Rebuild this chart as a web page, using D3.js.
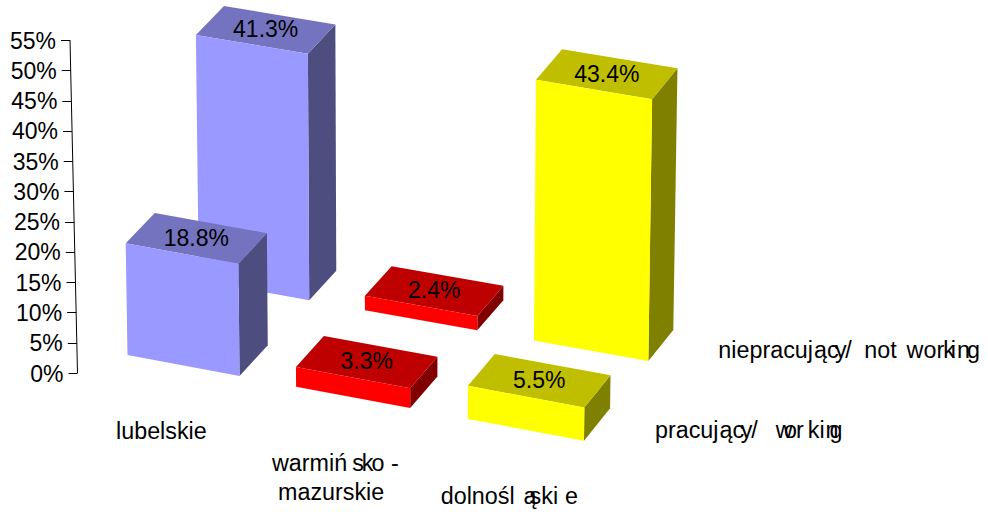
<!DOCTYPE html>
<html>
<head>
<meta charset="utf-8">
<style>
  body { margin: 0; background: #fff; }
  text { font-family: "Liberation Sans", Arial, sans-serif; font-size: 23px; fill: #000; font-kerning: none; white-space: pre; }
  text.caption { font-size: 23.3px; }
</style>
<script src="https://cdnjs.cloudflare.com/ajax/libs/d3/7.8.5/d3.min.js"></script>
</head>
<body>
<div id="chart-area"></div>
<script>
var categories = ["lubelskie", "warmińsko-mazurskie", "dolnośląskie"];
var seriesNames = ["pracujący/ working", "niepracujący/ not working"];
var working = [18.8, 3.3, 5.5];
var notWorking = [41.3, 2.4, 43.4];
var yTicks = [0, 5, 10, 15, 20, 25, 30, 35, 40, 45, 50, 55];

var frontColors = ["#9999ff", "#ff0000", "#ffff00"];
var topColors = ["#7373bf", "#bf0000", "#bfbf00"];
var sideColors = ["#4d4d80", "#800000", "#808000"];

var width = 988, height = 514;

var svg = d3.select("#chart-area").append("svg")
    .attr("width", width)
    .attr("height", height)
    .attr("viewBox", "0 0 " + width + " " + height);

// floor plane: unit square (u along categories, w into the page) to screen
var floor = homography([127.5, 355], [584, 440.7], [673.3, 330], [226.5, 251.5]);

var u = d3.scaleBand().domain(d3.range(categories.length)).range([0, 1]).paddingInner(1 / 3);
var w = d3.scaleBand().domain(d3.range(seriesNames.length)).range([0, 1]).paddingInner(0.6);
var rise = d3.scaleLinear().domain([0, 55]).range([0, 327]);
var yAxis = d3.scaleLinear().domain([0, 55]).range([373, 40]);
var axisX = d3.scaleLinear().domain([0, 55]).range([77.5, 70]);

function homography(p0, p1, p2, p3) {
  var dx1 = p1[0] - p2[0], dx2 = p3[0] - p2[0], sx = p0[0] - p1[0] + p2[0] - p3[0];
  var dy1 = p1[1] - p2[1], dy2 = p3[1] - p2[1], sy = p0[1] - p1[1] + p2[1] - p3[1];
  var den = dx1 * dy2 - dx2 * dy1;
  var g = (sx * dy2 - dx2 * sy) / den;
  var h = (dx1 * sy - sx * dy1) / den;
  var a = p1[0] - p0[0] + g * p1[0], b = p3[0] - p0[0] + h * p3[0];
  var d = p1[1] - p0[1] + g * p1[1], e = p3[1] - p0[1] + h * p3[1];
  return function(s, t) {
    var q = g * s + h * t + 1;
    return [(a * s + b * t + p0[0]) / q, (d * s + e * t + p0[1]) / q];
  };
}

// a point on the box at floor position (s, t), raised by value v
function project(s, t, v) {
  var base = floor(s + 0.02 * s * (1 - s), t);
  var up = rise(v) * (1 + 0.014 * s);
  return [base[0] + (base[0] - 400) * 0.00035 * v, base[1] - up];
}

function drawBar(i, j, value) {
  var s0 = u(i), s1 = s0 + u.bandwidth();
  var t0 = w(j), t1 = t0 + w.bandwidth();
  var g = svg.append("g").attr("class", "bar");

  g.append("polygon")
      .attr("fill", sideColors[i])
      .attr("points", [project(s1, t0, 0), project(s1, t1, 0), project(s1, t1, value), project(s1, t0, value)].join(" "));
  g.append("polygon")
      .attr("fill", topColors[i])
      .attr("points", [project(s0, t0, value), project(s1, t0, value), project(s1, t1, value), project(s0, t1, value)].join(" "));
  g.append("polygon")
      .attr("fill", frontColors[i])
      .attr("points", [project(s0, t0, 0), project(s1, t0, 0), project(s1, t0, value), project(s0, t0, value)].join(" "));

  var c = project((s0 + s1) / 2, (t0 + t1) / 2, value);
  g.append("text")
      .attr("x", c[0])
      .attr("y", c[1] + 7.5)
      .attr("text-anchor", "middle")
      .text(d3.format(".1f")(value) + "%");
}

// back row first so the front row covers it
notWorking.forEach(function(v, i) { drawBar(i, 1, v); });
working.forEach(function(v, i) { drawBar(i, 0, v); });

// slanted value axis
var axis = svg.append("g").attr("class", "axis");
axis.append("line")
    .attr("x1", axisX(0)).attr("y1", yAxis(0))
    .attr("x2", axisX(55)).attr("y2", yAxis(55))
    .attr("stroke", "#000");
axis.selectAll(".tick").data(yTicks).enter().append("line")
    .attr("class", "tick")
    .attr("x1", d => axisX(d) - 9)
    .attr("x2", d => axisX(d))
    .attr("y1", d => Math.round(yAxis(d)) + 0.5)
    .attr("y2", d => Math.round(yAxis(d)) + 0.5)
    .attr("stroke", "#000");
axis.selectAll(".tick-label").data(yTicks).enter().append("text")
    .attr("class", "tick-label")
    .attr("x", d => axisX(d) - 14)
    .attr("y", d => yAxis(d) + 8.5)
    .attr("text-anchor", "end")
    .text(d => d + "%");

// category and series captions; nudge = per-letter shift for the uneven spacing
var captions = [
  { text: categories[0], x: 116, y: 439, nudge: {} },
  { text: "warmińsko -", x: 272, y: 471, nudge: { 6: 5, 7: -2, 8: -2 } },
  { text: "mazurskie", x: 278, y: 500, nudge: {} },
  { text: categories[2], x: 440.7, y: 504, nudge: { 7: 9, 8: -7, 11: 7 } },
  { text: seriesNames[0], x: 655, y: 438, nudge: { 6: 1, 8: -3.5, 9: -1, 11: 11.5, 12: -8.6, 13: -1, 14: 4, 16: 1, 17: -9 } },
  { text: seriesNames[1], x: 718.3, y: 357.7, nudge: { 9: 1, 11: -3.5, 12: -1.5, 14: 6, 18: 3.5, 21: -1, 22: -4, 23: 1, 24: -3 } }
];

captions.forEach(function(c) {
  svg.append("text")
      .attr("class", "caption")
      .attr("x", c.x)
      .attr("y", c.y)
      .attr("dx", Array.from(c.text).map((ch, i) => c.nudge[i] || 0).join(" "))
      .text(c.text);
});
</script>
</body>
</html>
